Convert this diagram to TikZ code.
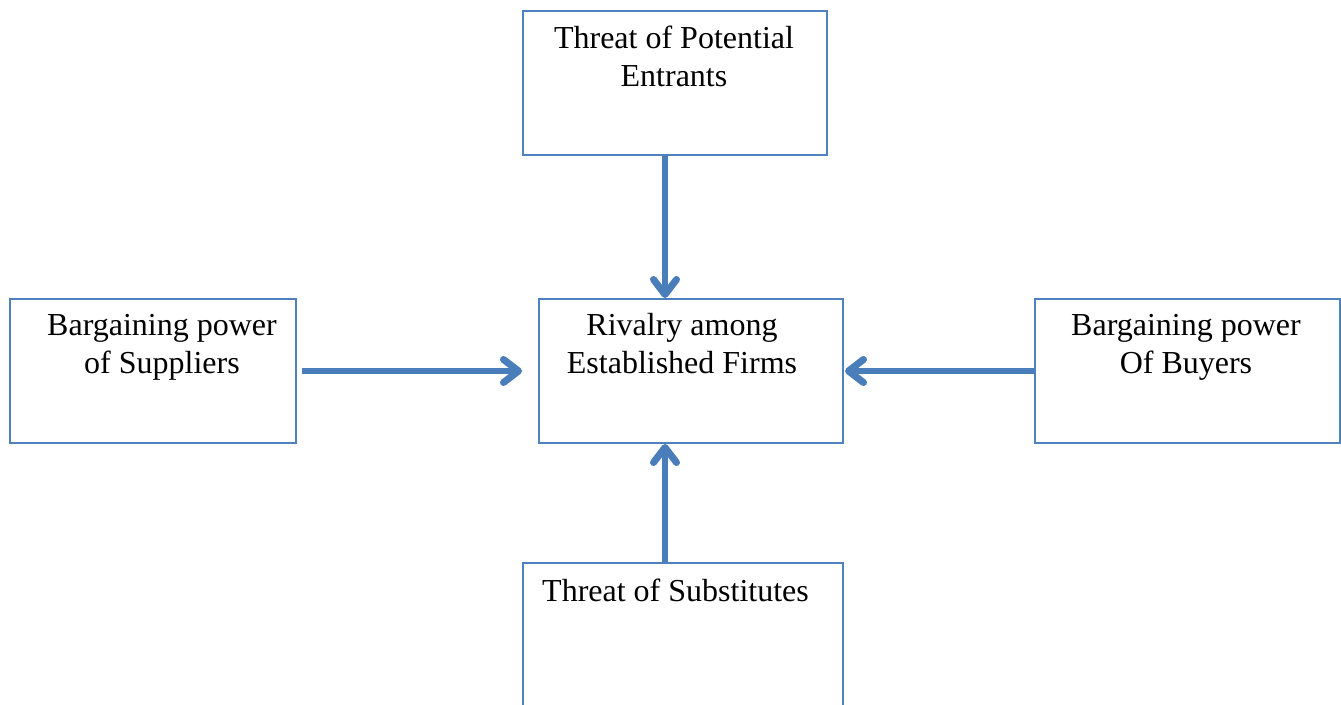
\documentclass[tikz,border=0pt]{standalone}
\usepackage{fontspec}
\setmainfont{Liberation Serif}
\usetikzlibrary{arrows.meta}
\definecolor{obox}{HTML}{4F81BD}
\definecolor{oarr}{HTML}{4A7EBB}
\tikzset{
  box/.style={draw=obox, line width=2pt, fill=white, rectangle, inner sep=0pt, anchor=north west},
  txt/.style={inner sep=0pt, align=center, font=\fontsize{32}{38}\selectfont, anchor=base},
  arr/.style={draw=oarr, line width=5.5pt, -{Straight Barb[length=15pt, width=23pt, line width=7pt, line cap=round, line join=round]}}
}
\begin{document}
\begin{tikzpicture}[x=1pt, y=-1pt]
\useasboundingbox[fill=white] (0,0) rectangle (1341,704);
\node[box, minimum width=304pt, minimum height=144pt] (top) at (522,10) {};
\node[box, minimum width=286pt, minimum height=144pt] (left) at (9,298) {};
\node[box, minimum width=304pt, minimum height=144pt] (mid) at (538,298) {};
\node[box, minimum width=305pt, minimum height=144pt] (right) at (1034,298) {};
\node[box, minimum width=320pt, minimum height=144pt] (bot) at (522,562) {};
\node[txt] (ttop) at (674,86) {Threat of Potential\\Entrants};
\node[txt] (tleft) at (162,373) {Bargaining power\\of Suppliers};
\node[txt] (tmid) at (682,373) {Rivalry among\\Established Firms};
\node[txt] (tright) at (1186,373) {Bargaining power\\Of Buyers};
\node[txt, anchor=base west] (tbot) at (542,601) {Threat of Substitutes};
\coordinate (vx) at (665,0);
\draw[arr] (top.south -| vx) -- (mid.north -| vx);
\draw[arr, shorten <=5pt, shorten >=16pt] (left.east) -- (mid.west);
\draw[arr, shorten >=1pt] (right.west) -- (mid.east);
\draw[arr] (bot.north -| vx) -- (mid.south -| vx);
\end{tikzpicture}
\end{document}
